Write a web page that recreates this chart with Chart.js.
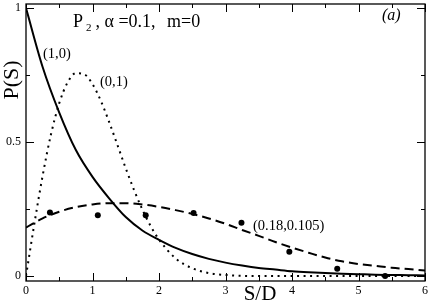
<!DOCTYPE html>
<html>
<head>
<meta charset="utf-8">
<script src="https://cdn.jsdelivr.net/npm/chart.js@4.4.1/dist/chart.umd.min.js"></script>
<style>
  html, body { margin: 0; padding: 0; background: #fff; }
  #wrap { width: 429px; height: 304px; position: relative; }
</style>
</head>
<body>
<div id="wrap"><canvas id="spacingChart"></canvas></div>
<script>
// S/D grid and curves
var sGrid = [0, 0.25, 0.5, 0.75, 1, 1.25, 1.5, 1.75, 2, 2.25, 2.5, 2.75, 3,
             3.25, 3.5, 3.75, 4, 4.25, 4.5, 4.75, 5, 5.25, 5.5, 5.75, 6];
var solidP = [1.0, 0.78, 0.61, 0.47, 0.37, 0.29, 0.22, 0.17, 0.135, 0.105, 0.082, 0.064, 0.05,
              0.039, 0.03, 0.024, 0.018, 0.014, 0.011, 0.009, 0.007, 0.005, 0.004, 0.003, 0.002];
var dashedP = [0.181, 0.215, 0.240, 0.257, 0.267, 0.272, 0.272, 0.267, 0.258, 0.246, 0.232, 0.215, 0.195,
               0.172, 0.150, 0.127, 0.106, 0.087, 0.069, 0.055, 0.045, 0.038, 0.031, 0.026, 0.021];

var dotS = [0, 0.125, 0.25, 0.375, 0.5, 0.625, 0.75, 0.875, 1, 1.125, 1.25, 1.375, 1.5,
            1.625, 1.75, 1.875, 2, 2.25, 2.5, 2.75, 3, 3.5, 4, 5, 6];
var dotP = [0, 0.194, 0.374, 0.528, 0.645, 0.722, 0.757, 0.753, 0.716, 0.654, 0.575, 0.489, 0.402,
            0.321, 0.248, 0.186, 0.136, 0.066, 0.029, 0.011, 0.004, 0, 0, 0, 0];

// histogram points
var histS = [0.36, 1.08, 1.80, 2.52, 3.24, 3.96, 4.68, 5.40];
var histP = [0.237, 0.227, 0.227, 0.235, 0.199, 0.091, 0.027, 0.0];

var xTicks = [0, 1, 2, 3, 4, 5, 6];
var yTicks = [0, 0.5, 1];

var serif = '"Liberation Serif", "DejaVu Serif", serif';

function pts(xs, ys) {
    return xs.map(function (x, i) { return { x: x, y: ys[i] }; });
}

// chart.js wants room for half a tick label at the ends; the original has none
function noPad(scale) {
    scale.paddingTop = 0;
    scale.paddingBottom = 0;
    scale.paddingLeft = 0;
    scale.paddingRight = 0;
}

var frameAndText = {
    id: 'frameAndText',
    afterDraw: function (chart) {
        var ctx = chart.ctx;
        var a = chart.chartArea;
        var xs = chart.scales.x, ys = chart.scales.y;
        ctx.save();
        ctx.strokeStyle = '#000';
        ctx.lineWidth = 1.3;
        ctx.strokeRect(a.left, a.top, a.right - a.left, a.bottom - a.top);

        // inward ticks on all four sides
        ctx.lineWidth = 1;
        ctx.beginPath();
        for (var v = 0; v <= 6; v += 0.5) {
            var px = Math.round(xs.getPixelForValue(v)) + 0.5;
            var len = (v % 1 === 0) ? 8 : 4;
            ctx.moveTo(px, a.bottom); ctx.lineTo(px, a.bottom - len);
            ctx.moveTo(px, a.top); ctx.lineTo(px, a.top + len);
        }
        for (var w = 0; w <= 1; w += 0.25) {
            var py = Math.round(ys.getPixelForValue(w)) + 0.5;
            var l2 = (w % 0.5 === 0) ? 8 : 4;
            ctx.moveTo(a.left, py); ctx.lineTo(a.left + l2, py);
            ctx.moveTo(a.right, py); ctx.lineTo(a.right - l2, py);
        }
        ctx.stroke();

        ctx.fillStyle = '#000';
        // axis titles
        ctx.font = '21px ' + serif;
        ctx.textAlign = 'center';
        ctx.textBaseline = 'alphabetic';
        ctx.fillText('S/D', 260, 300);
        ctx.save();
        ctx.translate(18, 80);
        ctx.rotate(-Math.PI / 2);
        ctx.font = '22px ' + serif;
        ctx.fillText('P(S)', 0, 0);
        ctx.restore();

        // heading
        ctx.textAlign = 'left';
        ctx.font = '18px ' + serif;
        ctx.fillText('P', 73, 27);
        ctx.font = '11px ' + serif;
        ctx.fillText('2', 86, 31);
        ctx.font = '18px ' + serif;
        ctx.fillText(' , \u03b1 =0.1,', 91, 27);
        ctx.fillText('m=0', 167, 27);

        ctx.font = 'italic 16px ' + serif;
        ctx.fillText('(a)', 382, 20);

        // curve labels
        ctx.font = '14.5px ' + serif;
        ctx.fillText('(1,0)', 43, 58);
        ctx.fillText('(0,1)', 100, 86);
        ctx.fillText('(0.18,0.105)', 253, 230);
        ctx.restore();
    }
};

var ctx = document.getElementById('spacingChart').getContext('2d');
var myChart = new Chart(ctx, {
    type: 'line',
    data: {
        datasets: [{
            label: '(1,0)',
            data: pts(sGrid, solidP),
            borderColor: '#000',
            borderWidth: 2,
            pointRadius: 0,
            cubicInterpolationMode: 'monotone'
        }, {
            label: '(0,1)',
            data: pts(dotS, dotP),
            borderColor: '#000',
            borderWidth: 2,
            borderDash: [2, 4.5],
            pointRadius: 0,
            cubicInterpolationMode: 'monotone'
        }, {
            label: '(0.18,0.105)',
            data: pts(sGrid, dashedP),
            borderColor: '#000',
            borderWidth: 2,
            borderDash: [9, 5],
            pointRadius: 0,
            cubicInterpolationMode: 'monotone'
        }, {
            label: 'histogram',
            data: pts(histS, histP),
            showLine: false,
            pointRadius: 3,
            pointBackgroundColor: '#000',
            pointBorderColor: '#000',
            borderWidth: 0
        }]
    },
    options: {
        responsive: true,
        maintainAspectRatio: false,
        animation: false,
        layout: { padding: { top: 2, right: 3, left: 0, bottom: 0 } },
        plugins: {
            legend: { display: false },
            tooltip: { enabled: false }
        },
        scales: {
            x: {
                type: 'linear',
                min: 0,
                max: 6,
                grid: { display: false, drawTicks: false },
                border: { display: false },
                afterBuildTicks: function (scale) {
                    scale.ticks = xTicks.map(function (v) { return { value: v }; });
                },
                afterFit: function (scale) { scale.height = 23; noPad(scale); },
                ticks: {
                    padding: 3,
                    color: '#000',
                    font: { family: serif, size: 12 },
                    maxRotation: 0,
                    autoSkip: false,
                    callback: function (v) { return String(v); }
                }
            },
            y: {
                type: 'linear',
                min: -0.0185,
                max: 1.015,
                grid: { display: false, drawTicks: false },
                border: { display: false },
                afterBuildTicks: function (scale) {
                    scale.ticks = yTicks.map(function (v) { return { value: v }; });
                },
                afterFit: function (scale) { scale.width = 26; noPad(scale); },
                ticks: {
                    padding: 5,
                    color: '#000',
                    font: { family: serif, size: 12 },
                    autoSkip: false,
                    callback: function (v) { return String(v); }
                }
            }
        }
    },
    plugins: [frameAndText]
});
</script>
</body>
</html>
